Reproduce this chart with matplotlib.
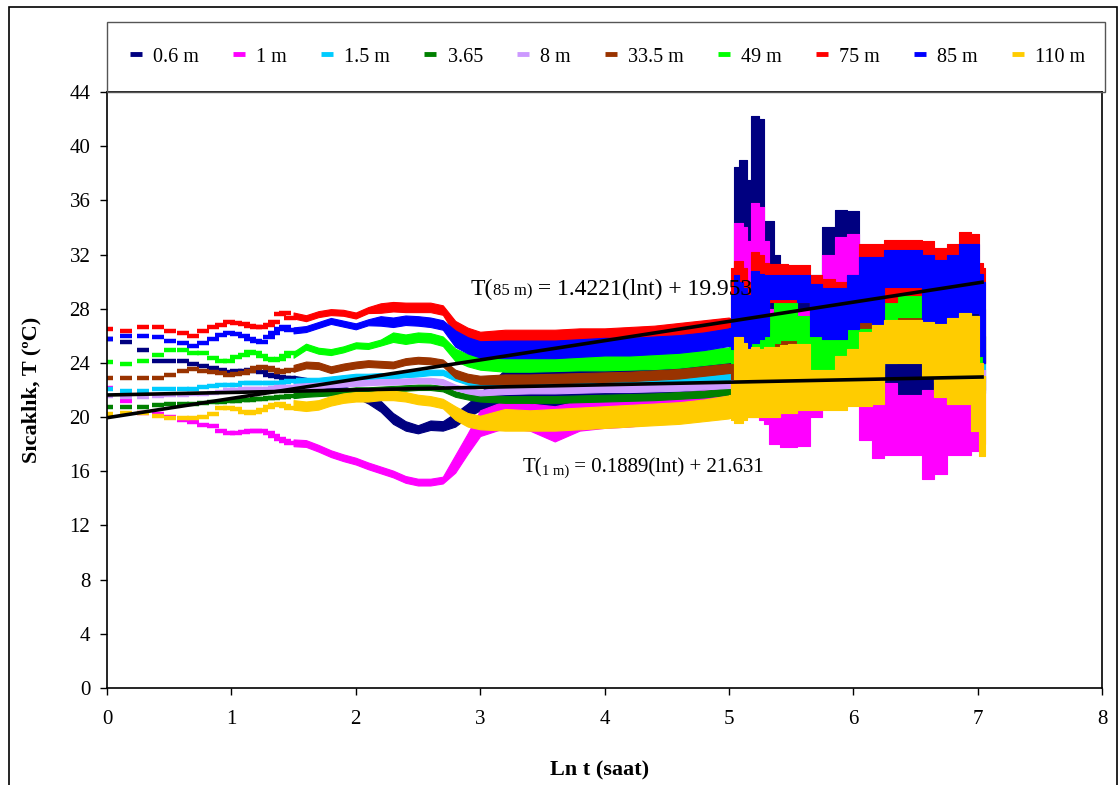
import matplotlib
matplotlib.use("Agg")
import matplotlib.pyplot as plt
from matplotlib.lines import Line2D
from matplotlib.patches import Rectangle

plt.rcParams['font.family'] = ['Liberation Serif', 'DejaVu Serif']

# sensor depths, drawn in this order (last one ends up on top)
depths = ['0.6 m', '1 m', '1.5 m', '3.65', '8 m', '33.5 m', '49 m', '75 m', '85 m', '110 m']
colors = ['#000080', '#FF00FF', '#00CCFF', '#008000', '#CC99FF',
          '#993300', '#00FF00', '#FF0000', '#0000FF', '#FFCC00']

# first readings (10 min apart) - still separate dashes on the ln t axis
lnt_early = [0.00, 0.15, 0.29, 0.41, 0.51, 0.61, 0.69, 0.77, 0.85, 0.92, 0.98,
             1.04, 1.10, 1.15, 1.20, 1.25, 1.30, 1.34, 1.39, 1.43, 1.47]

early = {
    '0.6 m': [25.8, 25.57, 24.95, 24.15, 24.15, 24.15, 23.9, 23.77, 23.6, 23.47, 23.35,
              23.4, 23.4, 23.47, 23.4, 23.35, 23.1, 23.0, 22.95, 22.9, 22.88],
    '1 m': [22.17, 21.19, 20.33, 20.2, 20.0, 19.8, 19.66, 19.42, 19.35, 19.0, 18.85,
            18.85, 18.9, 19.0, 19.0, 19.0, 18.8, 18.6, 18.4, 18.2, 18.1],
    '1.5 m': [22.07, 21.95, 21.95, 22.07, 22.07, 22.07, 22.1, 22.2, 22.3, 22.37, 22.37,
              22.4, 22.5, 22.5, 22.5, 22.5, 22.5, 22.5, 22.55, 22.6, 22.7],
    '3.65': [20.77, 20.77, 20.77, 20.9, 21.0, 21.0, 21.0, 21.05, 21.13, 21.15, 21.2,
             21.2, 21.25, 21.27, 21.3, 21.35, 21.4, 21.4, 21.45, 21.5, 21.55],
    '8 m': [21.56, 21.5, 21.5, 21.55, 21.6, 21.65, 21.7, 21.72, 21.76, 21.85, 22.0,
            22.0, 22.05, 22.05, 22.1, 22.1, 22.1, 22.15, 22.2, 22.2, 22.25],
    '33.5 m': [22.85, 22.85, 22.85, 22.85, 23.1, 23.4, 23.53, 23.4, 23.35, 23.23, 23.1,
               23.15, 23.23, 23.4, 23.6, 23.72, 23.6, 23.47, 23.35, 23.4, 23.5],
    '49 m': [24.04, 23.9, 24.17, 24.58, 24.95, 24.95, 24.7, 24.7, 24.33, 24.17, 24.17,
             24.4, 24.58, 24.83, 24.7, 24.5, 24.3, 24.2, 24.3, 24.5, 24.7],
    '75 m': [26.5, 26.35, 26.65, 26.65, 26.35, 26.2, 26.0, 26.35, 26.65, 26.8, 27.0,
             26.95, 26.9, 26.7, 26.65, 26.65, 26.8, 27.0, 27.6, 27.7, 27.3],
    '85 m': [25.8, 26.0, 26.0, 25.9, 25.6, 25.5, 25.25, 25.5, 25.8, 26.05, 26.2,
             26.1, 26.0, 25.8, 25.6, 25.57, 25.9, 26.2, 26.5, 26.65, 26.4],
    '110 m': [20.23, 20.33, 20.3, 20.08, 19.9, 19.9, 19.9, 20.0, 20.23, 20.7, 20.65,
              20.57, 20.4, 20.33, 20.4, 20.5, 20.77, 20.9, 21.0, 20.85, 20.7],
}

# from ln t = 1.5 the dashes merge into bands: lower / upper edge
lnt_mid = [1.5, 1.6, 1.7, 1.8, 1.9, 2.0, 2.1, 2.2, 2.3, 2.4, 2.5, 2.6, 2.7, 2.8, 2.9, 3.0,
           3.2, 3.4, 3.6, 3.8, 4.0, 4.2, 4.4, 4.6, 4.8, 5.0]

mid_lo = {
    '0.6 m': [22.65, 22.5, 22.25, 22.1, 21.9, 21.45, 21.0, 20.4, 19.5, 19.0, 18.8, 19.05, 19.0, 19.3, 20.0, 20.5,
              20.8, 20.8, 20.2, 20.8, 21.0, 21.0, 21.2, 21.3, 21.5, 22.0],
    '1 m': [17.85, 17.8, 17.45, 17.05, 16.75, 16.5, 16.15, 15.85, 15.55, 15.15, 14.95, 14.95, 15.1, 15.9, 17.3, 18.6,
            19.2, 19.0, 18.2, 19.0, 19.2, 19.3, 19.5, 19.6, 19.8, 20.0],
    '1.5 m': [22.5, 22.5, 22.5, 22.6, 22.7, 22.8, 22.8, 22.85, 22.85, 22.95, 23.0, 23.1, 23.1, 22.7, 22.4, 22.25,
              22.15, 22.15, 22.2, 22.25, 22.25, 22.3, 22.35, 22.45, 22.55, 22.75],
    '3.65': [21.4, 21.5, 21.55, 21.6, 21.7, 21.8, 21.8, 21.85, 21.9, 21.95, 22.0, 22.0, 21.9, 21.5, 21.3, 21.15,
             21.05, 21.05, 21.05, 21.1, 21.15, 21.2, 21.25, 21.35, 21.45, 21.65],
    '8 m': [22.05, 22.1, 22.15, 22.2, 22.25, 22.3, 22.35, 22.4, 22.4, 22.45, 22.5, 22.5, 22.4, 22.0, 21.75, 21.6,
            21.7, 21.75, 21.75, 21.8, 21.85, 21.85, 21.9, 21.95, 22.05, 22.15],
    '33.5 m': [23.35, 23.6, 23.55, 23.25, 23.45, 23.6, 23.7, 23.65, 23.6, 23.85, 23.95, 23.9, 23.75, 22.9, 22.6, 22.45,
               22.45, 22.45, 22.5, 22.55, 22.6, 22.65, 22.75, 22.85, 23.05, 23.25],
    '49 m': [24.38, 24.98, 24.68, 24.58, 24.78, 25.08, 25.03, 25.28, 25.55, 25.4, 25.55, 25.5, 25.25, 24.15, 23.75, 23.5,
             23.35, 23.35, 23.4, 23.45, 23.45, 23.5, 23.55, 23.65, 23.85, 24.05],
    '75 m': [27.28, 27.08, 27.38, 27.53, 27.48, 27.28, 27.68, 27.7, 27.8, 27.75, 27.75, 27.75, 27.55, 26.1, 25.6, 25.3,
             25.35, 25.35, 25.35, 25.45, 25.45, 25.55, 25.65, 25.85, 26.05, 26.25],
    '85 m': [26.18, 26.28, 26.58, 26.88, 26.68, 26.48, 26.78, 26.75, 26.65, 26.8, 26.75, 26.65, 26.45, 25.2, 24.7, 24.4,
             24.35, 24.35, 24.35, 24.45, 24.55, 24.55, 24.65, 24.75, 24.95, 25.25],
    '110 m': [20.55, 20.45, 20.55, 20.85, 21.05, 21.15, 21.15, 21.25, 21.25, 21.15, 20.95, 20.85, 20.65, 19.8, 19.3, 19.1,
              19.0, 19.0, 19.0, 19.1, 19.2, 19.3, 19.4, 19.5, 19.7, 19.9],
}

mid_hi = {
    '0.6 m': [23.05, 22.9, 22.65, 22.5, 22.3, 21.95, 21.6, 21.2, 20.3, 19.7, 19.4, 19.75, 19.7, 20.3, 21.0, 21.8,
              23.5, 24.0, 23.8, 24.0, 24.0, 24.2, 24.3, 24.5, 24.8, 25.0],
    '1 m': [18.35, 18.3, 17.95, 17.55, 17.25, 17.0, 16.65, 16.35, 16.05, 15.65, 15.45, 15.45, 15.6, 17.2, 18.8, 20.5,
            21.2, 21.0, 20.8, 21.2, 21.5, 21.5, 21.6, 21.8, 22.0, 22.3],
    '1.5 m': [22.9, 22.9, 22.9, 23.0, 23.1, 23.2, 23.2, 23.25, 23.25, 23.35, 23.4, 23.5, 23.5, 23.1, 22.8, 22.65,
              22.65, 22.65, 22.7, 22.75, 22.75, 22.8, 22.85, 22.95, 23.05, 23.25],
    '3.65': [21.8, 21.9, 21.95, 22.0, 22.1, 22.2, 22.2, 22.25, 22.3, 22.35, 22.4, 22.4, 22.3, 21.9, 21.7, 21.65,
             21.55, 21.55, 21.55, 21.6, 21.65, 21.7, 21.75, 21.85, 21.95, 22.15],
    '8 m': [22.45, 22.5, 22.55, 22.6, 22.65, 22.7, 22.75, 22.8, 22.8, 22.85, 22.9, 22.9, 22.8, 22.4, 22.15, 22.0,
            22.2, 22.25, 22.25, 22.3, 22.35, 22.35, 22.4, 22.45, 22.55, 22.65],
    '33.5 m': [23.85, 24.1, 24.05, 23.75, 23.95, 24.1, 24.2, 24.15, 24.1, 24.35, 24.45, 24.4, 24.25, 23.5, 23.2, 23.05,
               23.15, 23.15, 23.2, 23.25, 23.3, 23.35, 23.45, 23.55, 23.75, 23.95],
    '49 m': [24.82, 25.42, 25.12, 25.02, 25.22, 25.52, 25.47, 25.72, 26.25, 26.1, 26.25, 26.2, 25.95, 25.05, 24.65, 24.5,
             24.45, 24.45, 24.5, 24.55, 24.55, 24.6, 24.65, 24.75, 24.95, 25.15],
    '75 m': [27.72, 27.52, 27.82, 27.97, 27.92, 27.72, 28.12, 28.4, 28.5, 28.45, 28.45, 28.45, 28.25, 27.1, 26.6, 26.3,
             26.45, 26.45, 26.45, 26.55, 26.55, 26.65, 26.75, 26.95, 27.15, 27.35],
    '85 m': [26.62, 26.72, 27.02, 27.32, 27.12, 26.92, 27.22, 27.45, 27.35, 27.5, 27.45, 27.35, 27.15, 26.4, 25.9, 25.6,
             25.65, 25.65, 25.65, 25.75, 25.85, 25.85, 25.95, 26.05, 26.25, 26.55],
    '110 m': [21.25, 21.15, 21.25, 21.55, 21.75, 21.85, 21.85, 21.95, 21.95, 21.85, 21.65, 21.55, 21.35, 20.8, 20.3, 20.1,
              20.6, 20.5, 20.6, 20.7, 20.8, 20.9, 21.0, 21.1, 21.3, 21.6],
}

# last part of the record, daily swings get large
lnt_late = [5.0, 5.03, 5.06, 5.1, 5.13, 5.16, 5.19, 5.22, 5.26, 5.3, 5.34, 5.38, 5.45, 5.5, 5.6,
            5.7, 5.8, 5.9, 6.0, 6.1, 6.2, 6.3, 6.4, 6.5, 6.6, 6.7, 6.8, 6.9, 7.0, 7.03, 7.06]

late_lo = {
    '0.6 m': [22.0, 22.5, 24.0, 24.0, 25.0, 26.0, 26.0, 26.0, 26.0, 25.5, 25.0, 24.5, 24.0, 24.0, 24.0,
              24.5, 25.0, 26.0, 26.0, 25.0, 23.0, 22.0, 21.5, 21.3, 21.5, 22.5, 23.5, 23.5, 23.0, 22.5, 22.0],
    '1 m': [20.0, 20.0, 20.0, 20.0, 20.0, 20.0, 20.0, 20.0, 19.8, 19.5, 18.0, 18.0, 17.8, 17.8, 17.9,
            20.0, 21.0, 21.5, 21.5, 18.3, 17.0, 17.2, 17.2, 17.2, 15.4, 15.8, 17.2, 17.2, 17.5, 18.0, 18.0],
    '1.5 m': [22.75, 22.8, 22.8, 22.8, 22.9, 22.9, 23.0, 23.0, 23.0, 23.2, 23.3, 23.4, 23.6, 23.8, 23.8,
              23.5, 23.3, 23.3, 23.5, 23.5, 23.5, 24.0, 24.2, 24.2, 24.0, 23.5, 23.5, 23.8, 23.5, 23.2, 23.0],
    '3.65': [21.65, 21.6, 21.6, 21.6, 21.7, 21.7, 21.7, 21.7, 21.8, 21.8, 21.8, 21.8, 21.8, 21.8, 21.8,
             21.8, 21.8, 21.8, 21.8, 21.8, 21.8, 24.5, 24.5, 24.5, 24.5, 21.8, 21.8, 21.8, 21.8, 21.8, 21.8],
    '8 m': [22.15, 22.3, 22.3, 22.3, 22.4, 22.4, 22.4, 22.4, 22.5, 22.5, 22.5, 22.6, 22.6, 22.6, 22.6,
            22.6, 22.6, 22.6, 22.6, 22.6, 22.6, 24.5, 24.5, 24.5, 24.5, 22.6, 22.6, 22.6, 22.6, 22.6, 22.6],
    '33.5 m': [23.25, 22.8, 22.8, 22.8, 22.8, 22.8, 22.8, 22.9, 23.0, 23.0, 23.3, 23.5, 24.0, 24.0, 24.0,
               24.0, 24.0, 24.0, 24.0, 24.5, 25.0, 25.5, 26.0, 26.0, 25.5, 25.0, 25.0, 25.0, 24.5, 24.0, 24.0],
    '49 m': [24.05, 24.0, 24.0, 24.0, 24.0, 24.0, 24.0, 24.0, 24.0, 24.0, 24.5, 25.5, 25.7, 25.7, 24.5,
             23.0, 23.0, 23.0, 24.0, 24.0, 25.0, 26.0, 27.4, 27.4, 26.5, 25.5, 25.0, 25.5, 25.0, 24.0, 24.0],
    '75 m': [26.25, 26.0, 26.0, 26.0, 26.0, 26.0, 26.0, 26.0, 26.2, 26.5, 28.5, 28.5, 28.5, 28.5, 28.5,
             27.5, 27.0, 27.0, 27.5, 28.0, 28.0, 28.5, 29.0, 29.0, 28.5, 28.0, 28.0, 28.5, 28.0, 25.0, 24.0],
    '85 m': [25.25, 25.0, 25.0, 25.0, 25.0, 25.0, 25.5, 25.5, 25.8, 26.0, 28.7, 28.7, 28.7, 28.7, 28.5,
             26.0, 25.8, 25.8, 26.5, 27.0, 26.8, 29.6, 29.6, 29.6, 27.0, 26.9, 27.0, 27.7, 27.7, 24.5, 24.0],
    '110 m': [19.9, 19.8, 19.6, 19.6, 19.8, 20.0, 20.0, 20.0, 20.0, 20.0, 20.0, 20.0, 20.3, 20.3, 20.5,
              20.5, 20.5, 20.5, 20.8, 20.8, 21.0, 24.0, 24.0, 24.0, 23.0, 21.5, 21.0, 21.0, 19.0, 17.1, 17.1],
}

late_hi = {
    '0.6 m': [25.0, 26.0, 38.5, 39.0, 39.0, 37.5, 42.2, 42.2, 42.0, 34.5, 34.5, 32.0, 28.0, 28.0, 29.0,
              30.5, 34.0, 35.3, 35.2, 32.5, 31.0, 30.0, 28.0, 27.0, 28.0, 30.0, 31.0, 31.0, 30.0, 29.0, 28.0],
    '1 m': [22.3, 24.0, 34.3, 34.3, 34.0, 33.0, 35.8, 35.8, 35.5, 33.0, 28.0, 27.0, 27.0, 27.0, 28.0,
            30.0, 32.0, 33.3, 33.5, 31.0, 24.0, 22.5, 21.6, 21.6, 22.0, 23.0, 24.0, 24.0, 24.0, 24.0, 23.0],
    '1.5 m': [23.25, 23.8, 24.0, 24.2, 24.3, 24.4, 24.5, 24.6, 24.8, 25.0, 25.3, 25.5, 25.8, 26.0, 26.0,
              25.5, 25.2, 25.2, 25.5, 25.5, 25.8, 26.0, 26.2, 26.2, 26.0, 25.8, 25.8, 26.0, 25.8, 25.2, 25.0],
    '3.65': [22.15, 22.4, 22.5, 22.6, 22.6, 22.7, 22.7, 22.8, 22.9, 23.0, 23.0, 23.0, 23.0, 23.0, 23.0,
             23.0, 23.0, 23.0, 23.0, 23.0, 23.0, 25.5, 25.5, 25.5, 25.5, 23.0, 23.0, 23.0, 23.0, 23.0, 23.0],
    '8 m': [22.65, 23.0, 23.2, 23.3, 23.3, 23.4, 23.4, 23.5, 23.5, 23.6, 23.6, 23.7, 23.8, 23.8, 23.8,
            23.8, 23.8, 23.8, 23.8, 23.8, 23.8, 25.5, 25.5, 25.5, 25.5, 23.8, 23.8, 23.8, 23.8, 23.8, 23.5],
    '33.5 m': [23.95, 24.2, 24.5, 24.8, 25.0, 25.2, 25.2, 25.2, 25.3, 25.5, 25.8, 26.0, 26.0, 26.0, 26.0,
               26.0, 26.0, 26.0, 26.5, 27.0, 27.3, 27.6, 27.7, 27.7, 27.5, 27.3, 27.5, 27.8, 27.5, 27.0, 26.0],
    '49 m': [25.15, 25.6, 26.0, 26.3, 26.5, 26.6, 26.8, 27.0, 27.2, 27.3, 27.5, 28.5, 28.5, 28.5, 27.5,
             26.0, 26.0, 26.0, 26.5, 26.5, 27.5, 29.0, 29.6, 29.6, 29.0, 28.0, 27.5, 28.0, 27.5, 27.0, 26.0],
    '75 m': [27.35, 31.0, 31.5, 31.5, 31.0, 30.0, 32.2, 32.2, 32.0, 31.4, 31.3, 31.3, 31.3, 31.2, 31.2,
             30.5, 30.2, 30.0, 30.5, 32.8, 32.8, 33.1, 33.1, 33.1, 33.0, 32.5, 32.8, 33.7, 33.5, 31.4, 31.0],
    '85 m': [26.55, 29.0, 30.5, 30.0, 29.5, 29.0, 30.8, 30.8, 30.6, 30.5, 30.5, 30.5, 30.5, 30.5, 30.5,
             29.8, 29.5, 29.5, 30.5, 31.8, 31.8, 32.3, 32.3, 32.3, 32.0, 31.6, 32.0, 32.8, 32.8, 30.6, 30.0],
    '110 m': [21.6, 22.5, 25.9, 25.9, 25.5, 25.0, 25.2, 25.2, 25.0, 25.2, 25.2, 25.2, 25.3, 25.4, 25.4,
              23.5, 23.5, 24.5, 25.0, 26.3, 26.8, 27.2, 27.2, 27.2, 27.0, 26.9, 27.3, 27.7, 27.5, 24.0, 23.0],
}

# logarithmic trend lines written on the chart: slope, intercept
trend_fits = {'85 m': (1.4221, 19.953), '1 m': (0.1889, 21.631)}
trend_range = [0.0, 7.05]


def draw_equation(ax, x, y, depth, slope, icpt, size, small):
    """Write T(depth) = a(lnt) + b with a smaller depth label"""
    t1 = ax.text(x, y, 'T(', fontsize=size, va='center', zorder=5)
    t2 = ax.annotate(depth + ')', xy=(1, 0), xycoords=t1, va='bottom',
                     fontsize=small, zorder=5)
    ax.annotate(f' = {slope:.4f}(lnt) + {icpt:.3f}', xy=(1, 0), xycoords=t2,
                va='bottom', fontsize=size, zorder=5)


def main() -> None:
    fig = plt.figure(figsize=(11.19, 7.85), dpi=100)
    ax = fig.add_axes([107 / 1119, 1 - 688 / 785, 995 / 1119, 596 / 785])

    for name, c in zip(depths, colors):
        ax.plot(lnt_early, early[name], linestyle='none', marker='_',
                markersize=8, markeredgewidth=3.2, color=c)
        ax.fill_between(lnt_mid, mid_lo[name], mid_hi[name], color=c, linewidth=0.8)
        # blocky look of the overlapping dashes
        ax.fill_between(lnt_late, late_lo[name], late_hi[name], step='mid',
                        color=c, linewidth=0.8)

    for name, (a, b) in trend_fits.items():
        ax.plot(trend_range, [a * v + b for v in trend_range],
                color='black', linewidth=2.6, solid_capstyle='butt', zorder=4)

    draw_equation(ax, 2.92, 29.45, '85 m', *trend_fits['85 m'], size=17, small=12)
    draw_equation(ax, 3.34, 16.24, '1 m', *trend_fits['1 m'], size=15, small=10.5)

    ax.set_xlim(0, 8)
    ax.set_ylim(0, 44)
    ax.set_xticks(range(0, 9))
    ax.set_yticks(range(0, 45, 4))
    ax.tick_params(axis='both', direction='out', length=5, width=1, labelsize=15)
    ax.tick_params(axis='x', pad=11)
    ax.tick_params(axis='y', pad=7)
    for s in ax.spines.values():
        s.set_color('black')
        s.set_linewidth(1.2)

    ax.set_xlabel('Ln t (saat)', fontsize=16, fontweight='bold')
    ax.xaxis.set_label_coords(0.4955, -0.122)
    ax.set_ylabel('Sıcaklık, T (ºC)', fontsize=16, fontweight='bold')
    ax.yaxis.set_label_coords(-0.066, 0.5)

    # legend band above the plot area
    fig.patches.append(Rectangle((107 / 1119, 1 - 92 / 785), 998 / 1119, 70 / 785,
                                 transform=fig.transFigure, fill=False,
                                 edgecolor='#555555', linewidth=1))
    handles = [Line2D([], [], color=c, marker='_', markersize=9, markeredgewidth=3.5,
                      linestyle='none') for c in colors]
    fig.legend(handles, depths, ncol=10, mode='expand', loc='center', frameon=False,
               bbox_to_anchor=(107 / 1119, 1 - 92 / 785, 998 / 1119, 70 / 785),
               fontsize=14.5, handlelength=0.9, handletextpad=0.4, borderpad=1.0,
               borderaxespad=0)

    # outer chart border
    fig.patches.append(Rectangle((9 / 1119, -0.01), 1108 / 1119, 1.01 - 7 / 785,
                                 transform=fig.transFigure, fill=False,
                                 edgecolor='black', linewidth=1.2))

    fig.savefig('out.png', dpi=100)
    plt.close(fig)


if __name__ == "__main__":
    main()
